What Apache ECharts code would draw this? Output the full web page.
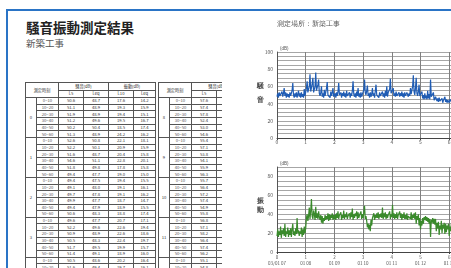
<!DOCTYPE html>
<html>
<head>
<meta charset="utf-8">
<script src="https://cdn.jsdelivr.net/npm/echarts@6/dist/echarts.min.js"></script>
<style>
  html, body { margin: 0; padding: 0; width: 451px; height: 268px; overflow: hidden; background: #fff; font-family: "Noto Sans CJK JP", sans-serif; }
  .frame-top { position: absolute; left: 6px; top: 9px; width: 445px; height: 2px; background: #2a74c6; }
  .frame-left { position: absolute; left: 6px; top: 9px; width: 2px; height: 259px; background: #2a74c6; }
  #title { position: absolute; left: 26px; top: 20px; font-size: 13.5px; line-height: 14px; font-weight: bold; color: #222; white-space: nowrap; }
  #sub { position: absolute; left: 26px; top: 38px; font-size: 9.5px; line-height: 10px; color: #555; white-space: nowrap; }
  .tbl { position: absolute; top: 0; left: 0; width: 130px; border-collapse: collapse; table-layout: fixed; font-size: 4.2px; color: #333; }
  .tbl td, .tbl th { border: 0.8px solid #555; padding: 0; text-align: center; font-weight: normal; overflow: hidden; white-space: nowrap; line-height: 5px; }
  .tbl tr.h { height: 7.5px; }
  .tbl tr.d { height: 6.67px; }
  .tbl td.t { color: #555; }
  #wrapA { position: absolute; left: 25px; top: 82px; width: 131px; height: 186px; overflow: hidden; }
  #wrapB { position: absolute; left: 158px; top: 82px; width: 64px; height: 186px; overflow: hidden; }
  #chart { position: absolute; left: 240px; top: 0; width: 360px; height: 268px; }
</style>
</head>
<body>
<div class="frame-top"></div>
<div class="frame-left"></div>
<div id="title">騒音振動測定結果</div>
<div id="sub">新築工事</div>
<div id="wrapA"></div>
<div id="wrapB"></div>
<div id="chart"></div>
<script>
// 表のデータ
const timeSlots = ['0~10', '10~20', '20~30', '30~40', '40~50', '50~60']
const hoursA = [0, 1, 2, 3, 4]
const hoursB = [8, 9, 10, 11, 12]
const noiseL5A = [50.6, 51.1, 51.9, 51.2, 50.2, 51.3, 52.6, 52.2, 51.6, 54.6, 51.8, 49.4, 49.4, 49.1, 49.7, 49.9, 49.4, 50.6, 49.6, 52.2, 50.9, 50.5, 51.7, 51.4, 50.5, 51.6, 50.8, 49.9, 50.3, 50.1]
const noiseLeqA = [48.7, 48.9, 48.9, 49.6, 50.4, 48.9, 50.8, 50.1, 48.7, 51.1, 49.8, 47.7, 47.5, 48.0, 47.8, 47.7, 47.9, 48.3, 47.7, 49.6, 48.9, 48.3, 49.5, 49.1, 48.6, 49.4, 48.8, 47.9, 48.1, 48.0]
const vibL10A = [17.6, 19.3, 19.4, 19.5, 18.5, 24.2, 22.1, 20.9, 20.4, 22.8, 17.8, 19.0, 19.4, 19.1, 19.1, 18.7, 18.9, 18.8, 20.7, 22.6, 22.6, 22.4, 19.9, 18.9, 20.2, 19.7, 18.4, 19.1, 18.6, 19.0]
const vibLeqA = [14.2, 15.9, 15.1, 16.7, 17.4, 16.2, 18.1, 15.9, 15.8, 20.1, 15.8, 15.0, 15.5, 16.1, 16.2, 14.7, 15.5, 17.4, 17.1, 19.4, 18.6, 19.7, 15.7, 16.0, 16.4, 16.1, 15.2, 15.9, 15.4, 15.6]
const noiseL5B = [57.6, 57.4, 57.8, 52.4, 53.0, 54.6, 55.4, 57.1, 53.8, 54.1, 55.9, 56.3, 55.7, 56.4, 57.2, 57.4, 54.9, 55.8, 56.8, 57.1, 58.2, 56.4, 57.4, 56.2, 55.1, 54.8, 55.6, 56.1, 55.3, 54.9]
const noiseLeqB = [53.1, 52.8, 53.4, 49.6, 50.1, 51.2, 51.7, 53.0, 50.5, 50.8, 52.1, 52.6, 52.0, 52.7, 53.3, 53.6, 51.4, 52.1, 53.0, 53.2, 54.1, 52.6, 53.5, 52.4, 51.5, 51.2, 51.9, 52.4, 51.6, 51.3]
const vibL10B = [30.2, 31.5, 33.1, 29.8, 30.4, 31.0, 39.6, 41.2, 38.4, 37.9, 38.8, 39.1, 38.4, 39.7, 40.1, 38.6, 37.9, 38.2, 38.7, 39.3, 40.4, 38.9, 39.6, 38.1, 37.6, 37.2, 38.0, 38.5, 37.7, 37.4]
const vibLeqB = [24.1, 25.3, 26.8, 23.9, 24.6, 25.2, 33.4, 35.0, 32.6, 31.8, 32.7, 33.2, 32.5, 33.8, 34.2, 32.7, 31.9, 32.4, 32.9, 33.4, 34.6, 33.1, 33.7, 32.3, 31.8, 31.4, 32.2, 32.6, 31.9, 31.5]

// グラフのデータ（0.025刻み）
const STEP = 0.025
const noise = [
  48, 52, 47, 53, 49, 51, 47, 54, 48, 52, 58, 49, 53, 47, 52, 48, 51, 47, 53, 49,
  48, 55, 64, 50, 47, 52, 48, 53, 47, 51, 55, 48, 52, 47, 53, 48, 51, 47, 57, 49,
  51, 58, 66, 53, 55, 60, 74, 54, 56, 63, 70, 53, 51, 60, 76, 55, 54, 62, 68, 52,
  49, 53, 60, 48, 52, 47, 56, 49, 51, 58, 65, 50, 48, 52, 47, 54, 49, 53, 58, 48,
  48, 52, 47, 53, 49, 54, 64, 50, 48, 53, 47, 52, 49, 54, 48, 52, 47, 55, 49, 51,
  48, 53, 47, 52, 49, 55, 66, 51, 48, 52, 47, 54, 49, 58, 48, 52, 47, 53, 48, 51,
  49, 56, 68, 53, 50, 55, 61, 49, 52, 47, 53, 48, 51, 58, 49, 52, 47, 55, 62, 50,
  48, 52, 47, 53, 49, 51, 47, 54, 48, 52, 47, 55, 49, 60, 48, 53, 51, 57, 69, 52,
  51, 54, 58, 49, 52, 48, 54, 49, 51, 47, 53, 48, 52, 49, 54, 48, 52, 47, 53, 49,
  49, 53, 55, 48, 52, 49, 58, 51, 52, 60, 73, 54, 50, 58, 70, 52, 49, 54, 62, 49,
  47, 51, 54, 46, 50, 45, 52, 46, 49, 45, 55, 46, 51, 45, 68, 48, 46, 50, 53, 44,
  44, 48, 50, 43, 46, 42, 47, 43, 45, 42, 46, 41, 44, 42, 48, 42, 45, 41, 44, 42,
  41, 45, 46, 42, 44, 41, 45, 40
]
const vibration = [
  17, 24, 16, 22, 18, 27, 15, 23, 19, 25, 17, 30, 16, 22, 19, 26, 16, 23, 18, 25,
  16, 24, 30, 18, 22, 17, 25, 19, 36, 20, 23, 17, 22, 19, 26, 16, 24, 18, 27, 20,
  25, 36, 40, 33, 38, 47, 35, 44, 56, 38, 35, 44, 40, 34, 48, 36, 41, 35, 43, 37,
  34, 39, 31, 38, 30, 36, 33, 39, 34, 38, 35, 41, 33, 40, 34, 39, 36, 41, 34, 39,
  35, 40, 34, 41, 36, 43, 35, 39, 37, 42, 34, 39, 36, 44, 35, 40, 37, 42, 35, 38,
  36, 41, 35, 42, 37, 46, 34, 40, 36, 41, 38, 43, 35, 42, 36, 39, 37, 43, 35, 40,
  36, 42, 49, 35, 38, 33, 26, 30, 24, 29, 22, 34, 28, 36, 35, 41, 34, 39, 36, 41,
  36, 42, 35, 40, 37, 41, 36, 47, 35, 41, 37, 42, 35, 40, 36, 39, 38, 43, 35, 40,
  37, 50, 36, 41, 35, 40, 36, 42, 35, 39, 37, 43, 36, 41, 34, 40, 36, 42, 35, 39,
  35, 41, 34, 38, 36, 40, 35, 42, 34, 39, 36, 41, 35, 42, 30, 38, 34, 40, 28, 36,
  24, 33, 28, 36, 30, 37, 34, 38, 33, 37, 32, 36, 30, 35, 16, 34, 31, 36, 30, 35,
  29, 35, 22, 31, 25, 32, 18, 28, 24, 33, 20, 29, 25, 31, 19, 30, 21, 28, 24, 30,
  17, 27, 22, 30, 19, 26, 24, 28
]
const dateLabels = ['03/01 07', '01 08', '01 09', '01 10', '01 11', '01 12', '01 13', '01 14', '01 15', '01 16', '01 17']

// 表を組み立てる
function buildTable (hours, l5, leq1, l10, leq2) {
  let html = '<table class="tbl"><colgroup><col style="width:11px"><col style="width:22px"><col style="width:25px"><col style="width:25px"><col style="width:25px"><col style="width:22px"></colgroup>'
  html += '<tr class="h"><th rowspan="2" colspan="2">測定時刻</th><th colspan="2">騒音(dB)</th><th colspan="2">振動(dB)</th></tr>'
  html += '<tr class="h"><th>L5</th><th>Leq</th><th>L10</th><th>Leq</th></tr>'
  hours.forEach((h, hi) => {
    timeSlots.forEach((t, ti) => {
      const i = hi * timeSlots.length + ti
      html += '<tr class="d">'
      if (ti === 0) html += '<td rowspan="6">' + h + '</td>'
      html += '<td class="t">' + t + '</td><td>' + l5[i].toFixed(1) + '</td><td>' + leq1[i].toFixed(1) + '</td><td>' + l10[i].toFixed(1) + '</td><td>' + leq2[i].toFixed(1) + '</td></tr>'
    })
  })
  return html + '</table>'
}
document.getElementById('wrapA').innerHTML = buildTable(hoursA, noiseL5A, noiseLeqA, vibL10A, vibLeqA)
document.getElementById('wrapB').innerHTML = buildTable(hoursB, noiseL5B, noiseLeqB, vibL10B, vibLeqB)

// 軸の共通設定
const xAxisBase = {
  type: 'value',
  min: 0,
  max: 10,
  interval: 1,
  axisLine: { lineStyle: { color: '#444', width: 1 } },
  axisTick: { show: true, length: 2, lineStyle: { color: '#444' } },
  splitLine: { show: true, lineStyle: { color: '#808080', width: 1 } }
}
const yAxisBase = {
  type: 'value',
  min: 0,
  interval: 5,
  axisLine: { show: true, lineStyle: { color: '#555', width: 1 } },
  axisTick: { show: false },
  splitLine: { show: true, lineStyle: { color: '#a6a6a6', width: 1 } },
  axisLabel: { fontSize: 5, color: '#555', margin: 4, formatter: v => (v % 20 === 0 ? v : '') }
}

const chart = echarts.init(document.getElementById('chart'))
chart.setOption({
  animation: false,
  textStyle: { fontFamily: 'Noto Sans CJK JP' },
  grid: [
    { left: 37, top: 52, width: 287, height: 86 },
    { left: 37, top: 167, width: 287, height: 85 }
  ],
  xAxis: [
    Object.assign({}, xAxisBase, { gridIndex: 0, axisLabel: { fontSize: 5, color: '#555', margin: 2 } }),
    Object.assign({}, xAxisBase, {
      gridIndex: 1,
      axisLabel: { fontSize: 4.5, color: '#555', margin: 2, lineHeight: 6, formatter: v => v + '\n' + dateLabels[v] }
    })
  ],
  yAxis: [
    Object.assign({}, yAxisBase, { gridIndex: 0, max: 100 }),
    Object.assign({}, yAxisBase, { gridIndex: 1, max: 90 })
  ],
  graphic: [
    { type: 'text', left: 37, top: 21, style: { text: '測定場所：新築工事', fontSize: 6.5, fill: '#555' } },
    { type: 'text', left: 40, top: 46, style: { text: '(dB)', fontSize: 4.5, fill: '#555' } },
    { type: 'text', left: 40, top: 161, style: { text: '(dB)', fontSize: 4.5, fill: '#555' } },
    { type: 'text', left: 17, top: 83, style: { text: '騒', fontSize: 7, fontWeight: 'bold', fill: '#444' } },
    { type: 'text', left: 17, top: 97, style: { text: '音', fontSize: 7, fontWeight: 'bold', fill: '#444' } },
    { type: 'text', left: 17, top: 198, style: { text: '振', fontSize: 7, fontWeight: 'bold', fill: '#444' } },
    { type: 'text', left: 17, top: 207, style: { text: '動', fontSize: 7, fontWeight: 'bold', fill: '#444' } }
  ],
  series: [
    {
      type: 'line',
      xAxisIndex: 0,
      yAxisIndex: 0,
      showSymbol: false,
      data: noise.map((v, i) => [i * STEP, v]),
      lineStyle: { color: '#1f5cb4', width: 1.2 }
    },
    {
      type: 'line',
      xAxisIndex: 1,
      yAxisIndex: 1,
      showSymbol: false,
      data: vibration.map((v, i) => [i * STEP, v]),
      lineStyle: { color: '#3a8a2c', width: 1.2 }
    }
  ]
})
</script>
</body>
</html>
